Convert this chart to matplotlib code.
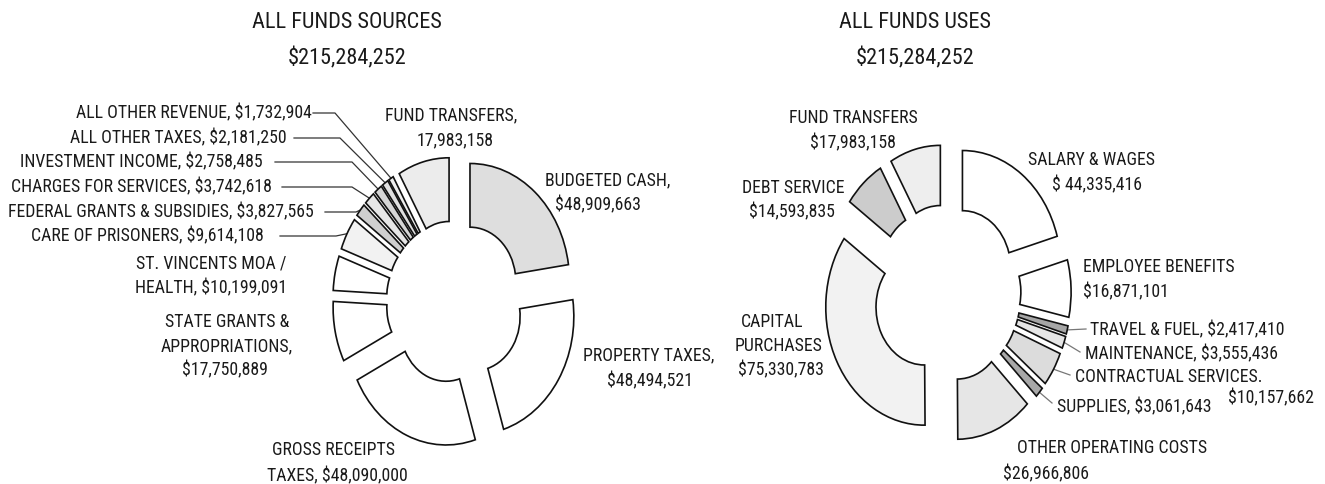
import matplotlib.pyplot as plt
from matplotlib import font_manager as fm
import numpy as np

# pick a narrow sans face (the reference text is Arial squeezed horizontally)
narrow = 'Liberation Sans'
for fam in ['Liberation Sans Narrow', 'Arial Narrow', 'Roboto Condensed', 'Archivo Narrow', 'PT Sans Narrow']:
    try:
        fm.findfont(fm.FontProperties(family=fam), fallback_to_default=False)
        narrow = fam
        break
    except ValueError:
        pass
plt.rcParams['font.family'] = [narrow, 'DejaVu Sans']

# Data
src_names = ["BUDGETED CASH", "PROPERTY TAXES", "GROSS RECEIPTS TAXES", "STATE GRANTS & APPROPRIATIONS",
             "ST. VINCENTS MOA / HEALTH", "CARE OF PRISONERS", "FEDERAL GRANTS & SUBSIDIES",
             "CHARGES FOR SERVICES", "INVESTMENT INCOME", "ALL OTHER TAXES", "ALL OTHER REVENUE",
             "FUND TRANSFERS"]
src_values = [48909663, 48494521, 48090000, 17750889, 10199091, 9614108, 3827565,
              3742618, 2758485, 2181250, 1732904, 17983158]
src_colors = ['#dedede', 'white', 'white', 'white', 'white', '#f2f2f2', '#cfcfcf',
              '#e6e6e6', '#d6d6d6', '#e0e0e0', '#efefef', '#ececec']

use_names = ["SALARY & WAGES", "EMPLOYEE BENEFITS", "TRAVEL & FUEL", "MAINTENANCE",
             "CONTRACTUAL SERVICES", "SUPPLIES", "OTHER OPERATING COSTS", "CAPITAL PURCHASES",
             "DEBT SERVICE", "FUND TRANSFERS"]
use_values = [44335416, 16871101, 2417410, 3555436, 10157662, 3061643, 26966806,
              75330783, 14593835, 17983158]
use_colors = ['white', 'white', '#a6a6a6', '#e6e6e6', '#dcdcdc', '#a8a8a8', '#e6e6e6',
              '#f2f2f2', '#cccccc', '#eeeeee']

total = "$215,284,252"

W, H = 1325, 484
fig = plt.figure(figsize=(W / 100, H / 100), dpi=100)
over = fig.add_axes([0, 0, 1, 1])
over.set_xlim(0, W)
over.set_ylim(H, 0)
over.axis('off')


def donut(cx, cy, rx, ry, values, colors, explode, width):
    ax = fig.add_axes([(cx - 1.6 * rx) / W, 1 - (cy + 1.6 * ry) / H, 3.2 * rx / W, 3.2 * ry / H])
    wedges, _ = ax.pie(values, colors=colors, startangle=90, counterclock=False,
                       explode=[explode] * len(values),
                       wedgeprops=dict(width=width, edgecolor='#111111', linewidth=1.2))
    ax.set_aspect('auto')
    ax.set_xlim(-1.6, 1.6)
    ax.set_ylim(-1.6, 1.6)
    return ax, wedges


def edge_point(ax, w, r=1.0):
    t = np.deg2rad((w.theta1 + w.theta2) / 2)
    p = ax.transData.transform((w.center[0] + r * np.cos(t), w.center[1] + r * np.sin(t)))
    return p[0], H - p[1]


def lab(x, y, t, ha='center', size=12.8):
    over.text(x, y, t, ha=ha, va='center', fontsize=size, color='#1a1a1a')


ax1, w1 = donut(455, 302, 99.5, 118, src_values, src_colors, 0.23, 0.54)
ax2, w2 = donut(947, 293, 98.5, 118, use_values, use_colors, 0.26, 0.51)

# titles
lab(347, 22, "ALL FUNDS SOURCES", size=16)
lab(347, 58, total, size=16)
lab(915, 22, "ALL FUNDS USES", size=16)
lab(915, 58, total, size=16)

# left labels with leaders: (wedge index, text, right x, y, line start x, elbow x)
left_small = [
    (10, "ALL OTHER REVENUE, $1,732,904", 312, 113, 313, 335),
    (9, "ALL OTHER TAXES, $2,181,250", 287, 138, 294, 340),
    (8, "INVESTMENT INCOME, $2,758,485", 263, 162, 275, 352),
    (7, "CHARGES FOR SERVICES, $3,742,618", 272, 187, 282, 352),
    (6, "FEDERAL GRANTS & SUBSIDIES, $3,827,565", 314, 212, 325, 356),
    (5, "CARE OF PRISONERS, $9,614,108", 264, 236, 280, 336),
]
for i, t, x, y, x0, xe in left_small:
    lab(x, y, t, ha='right')
    px, py = edge_point(ax1, w1[i])
    over.plot([x0, xe, px], [y, y, py], color='#333333', lw=0.9)

lab(211, 263, "ST. VINCENTS MOA /")
lab(211, 288, "HEALTH, $10,199,091")
lab(227, 322, "STATE GRANTS &")
lab(227, 346, "APPROPRIATIONS,")
lab(225, 370, "$17,750,889")
lab(333, 450, "GROSS RECEIPTS")
lab(337, 476, "TAXES, $48,090,000")
lab(583, 355, "PROPERTY TAXES,", ha='left')
lab(693, 381, "$48,494,521", ha='right')
lab(545, 180, "BUDGETED CASH,", ha='left')
lab(555, 205, "$48,909,663", ha='left')
lab(451, 115, "FUND TRANSFERS,")
lab(455, 140, "17,983,158")

# right labels
lab(853, 118, "FUND TRANSFERS")
lab(853, 143, "$17,983,158")
lab(793, 188, "DEBT SERVICE")
lab(792, 212, "$14,593,835")
lab(1092, 160, "SALARY & WAGES")
lab(1097, 185, "$ 44,335,416")
lab(1083, 267, "EMPLOYEE BENEFITS", ha='left')
lab(1083, 292, "$16,871,101", ha='left')
lab(772, 322, "CAPITAL")
lab(779, 346, "PURCHASES")
lab(781, 370, "$75,330,783")
lab(1017, 448, "OTHER OPERATING COSTS", ha='left')
lab(1003, 474, "$26,966,806", ha='left')

right_small = [
    (2, "TRAVEL & FUEL, $2,417,410", 1090, 330, 1086, 329),
    (3, "MAINTENANCE, $3,555,436", 1085, 354, 1080, 352),
    (4, "CONTRACTUAL SERVICES.", 1075, 377, 1070, 375),
    (5, "SUPPLIES, $3,061,643", 1057, 407, 1052, 403),
]
for i, t, x, y, lx, ly in right_small:
    lab(x, y, t, ha='left')
    px, py = edge_point(ax2, w2[i])
    over.plot([px, lx], [py, ly], color='#777777', lw=0.9)
lab(1228, 398, "$10,157,662", ha='left')

fig.savefig('out.png', dpi=100, facecolor='white')
